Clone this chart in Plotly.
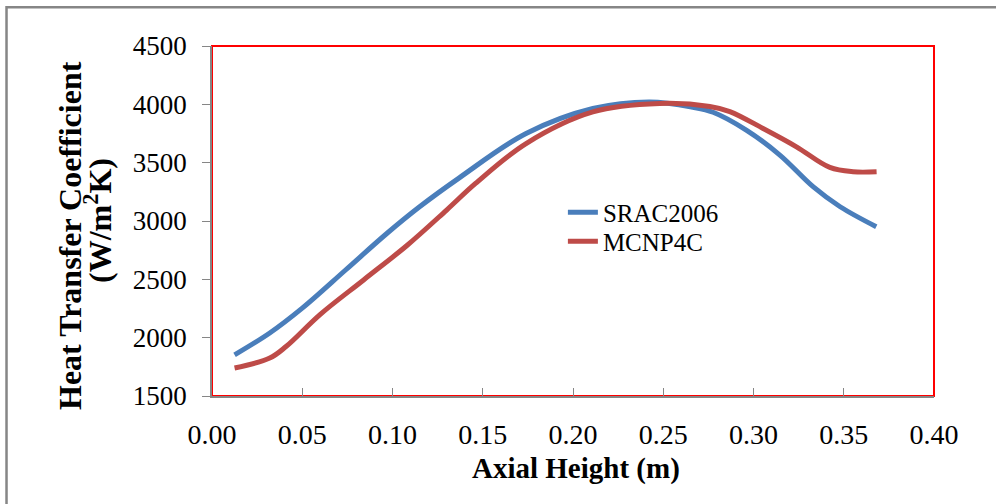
import plotly.graph_objects as go

# Data
srac_x = [0.0125, 0.032, 0.050, 0.074, 0.097, 0.115, 0.137, 0.174, 0.211, 0.2425,
          0.2665, 0.2776, 0.296, 0.3146, 0.333, 0.348, 0.368]
srac_y = [1853, 2040, 2253, 2580, 2895, 3122, 3370, 3750, 3964, 4021,
          3975, 3932, 3779, 3565, 3294, 3122, 2951]

mcnp_x = [0.0125, 0.032, 0.041, 0.060, 0.084, 0.108, 0.130, 0.146, 0.174, 0.211,
          0.248, 0.2758, 0.2869, 0.3053, 0.3238, 0.3423, 0.3552, 0.3682]
mcnp_y = [1740, 1825, 1924, 2200, 2495, 2790, 3094, 3322, 3664, 3935,
          4007, 3982, 3938, 3793, 3636, 3459, 3422, 3422]

x_ticks = [0.00, 0.05, 0.10, 0.15, 0.20, 0.25, 0.30, 0.35, 0.40]
y_ticks = [1500, 2000, 2500, 3000, 3500, 4000, 4500]

FONT = "Liberation Serif"

fig = go.Figure()
fig.add_trace(go.Scatter(x=srac_x, y=srac_y, mode="lines", name="SRAC2006",
                         legend="legend",
                         line=dict(color="#4A7EBB", width=5, shape="spline", smoothing=1.0)))
fig.add_trace(go.Scatter(x=mcnp_x, y=mcnp_y, mode="lines", name="MCNP4C",
                         legend="legend2",
                         line=dict(color="#BE4B48", width=5, shape="spline", smoothing=1.0)))

legend_common = dict(xanchor="left", yanchor="top", bgcolor="rgba(0,0,0,0)",
                     font=dict(family=FONT, size=25))

fig.update_layout(
    width=996, height=504,
    margin=dict(l=212, r=62, t=46, b=108),
    paper_bgcolor="white", plot_bgcolor="white",
    font=dict(family=FONT, color="black", size=26),
    showlegend=True,
    legend=dict(x=0.486, y=0.59, **legend_common),
    legend2=dict(x=0.486, y=0.507, **legend_common),
    xaxis=dict(range=[0, 0.40], tickvals=x_ticks, tickformat=".2f",
               showgrid=False, zeroline=False, showline=True, linecolor="#868686",
               linewidth=1.5, ticks="inside", ticklen=8, tickcolor="#868686",
               tickfont=dict(family=FONT, size=28), ticklabelstandoff=13),
    yaxis=dict(range=[1500, 4500], tickvals=y_ticks, tickformat="d",
               showgrid=False, zeroline=False, showline=True, linecolor="#868686",
               linewidth=1.5, ticks="outside", ticklen=8, tickcolor="#868686",
               tickfont=dict(family=FONT, size=27), ticklabelstandoff=10),
    shapes=[
        dict(type="rect", xref="paper", yref="paper", x0=0, x1=1, y0=0, y1=1,
             line=dict(color="#FF0000", width=2), layer="below"),
        dict(type="rect", xref="paper", yref="paper", x0=-0.2846, x1=1.1, y0=-0.35, y1=1.111,
             line=dict(color="#868686", width=2.5), layer="below"),
    ],
    annotations=[
        dict(text="<b>Axial Height (m)</b>", xref="paper", yref="paper",
             x=(576 - 212) / 722, y=(396 - 468) / 350, showarrow=False,
             xanchor="center", yanchor="middle", font=dict(family=FONT, size=29)),
        dict(text="<b>Heat Transfer Coefficient</b>", xref="paper", yref="paper",
             x=(70 - 212) / 722, y=(396 - 236) / 350, showarrow=False, textangle=-90,
             xanchor="center", yanchor="middle", font=dict(family=FONT, size=32)),
        dict(text="<b>(W/m<sup>2</sup>K)</b>", xref="paper", yref="paper",
             x=(98 - 212) / 722, y=(396 - 221) / 350, showarrow=False, textangle=-90,
             xanchor="center", yanchor="middle", font=dict(family=FONT, size=32)),
    ],
)

fig.write_html("out.html")
